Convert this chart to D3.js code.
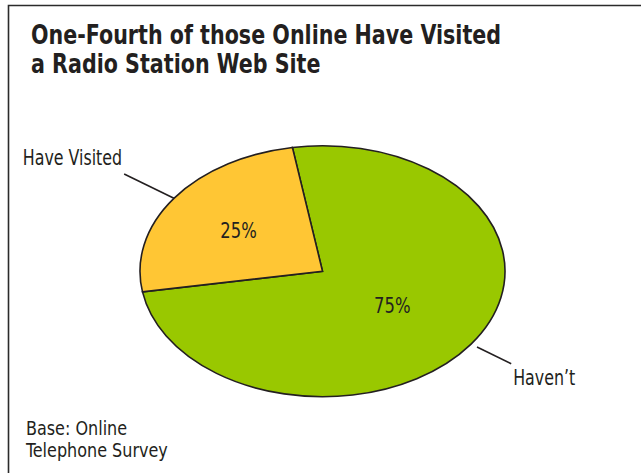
<!DOCTYPE html>
<html>
<head>
<meta charset="utf-8">
<script src="https://cdn.jsdelivr.net/npm/d3@7"></script>
<style>
  html, body { margin: 0; padding: 0; background: #fff; }
  svg { display: block; }
  text { font-family: "DejaVu Sans Condensed", "DejaVu Sans", sans-serif; font-stretch: condensed; fill: #231f20; }
</style>
</head>
<body>
<script>
// Survey share of online users who have visited a radio station web site
const categories = ["Haven\u2019t", "Have Visited"];
const shares = [75, 25];
const colors = ["#99c800", "#ffc634"];
const titleLines = ["One-Fourth of those Online Have Visited", "a Radio Station Web Site"];
const noteLines = ["Base: Online", "Telephone Survey"];

const W = 641, H = 473;
const svg = d3.select("body").append("svg").attr("width", W).attr("height", H);

// narrow a text element horizontally around its anchor point
function narrow(sel, f) {
  sel.each(function () {
    const t = d3.select(this);
    const x = +t.attr("x");
    t.attr("transform", `translate(${x},0) scale(${f},1) translate(${-x},0)`);
  });
}

// frame (open on the right and bottom)
svg.append("path")
  .attr("d", `M8.5,${H} L8.5,5.5 L${W},5.5`)
  .attr("fill", "none").attr("stroke", "#2b2b2b").attr("stroke-width", 1.6);

// title
svg.append("g").selectAll("text").data(titleLines).join("text")
  .attr("x", 31).attr("y", (d, i) => 44 + i * 29)
  .attr("font-size", 27).attr("font-weight", "bold")
  .text(d => d)
  .call(narrow, 0.85);

// footnote
svg.append("g").selectAll("text").data(noteLines).join("text")
  .attr("x", 26).attr("y", (d, i) => 435.5 + i * 22)
  .attr("font-size", 20)
  .text(d => d)
  .call(narrow, 0.89);

// elliptical pie: draw a circle of radius rx and squash vertically
const cx = 322.5, cy = 271.2, rx = 182.5, ry = 125.5;
const sy = ry / rx;
const rad = a => a * Math.PI / 180;

const data = categories.map((c, i) => ({ name: c, value: shares[i], color: colors[i] }));
const pie = d3.pie().value(d => d.value).sort(null)
  .startAngle(rad(-9.5)).endAngle(rad(350.5));
const arcs = pie(data);
const arc = d3.arc().innerRadius(0).outerRadius(rx);

const g = svg.append("g").attr("transform", `translate(${cx},${cy}) scale(1,${sy})`);
g.selectAll("path").data(arcs).join("path")
  .attr("d", arc)
  .attr("fill", d => d.data.color)
  .attr("stroke", "#231f20")
  .attr("stroke-width", 1.6)
  .attr("stroke-linejoin", "miter")
  .attr("vector-effect", "non-scaling-stroke");

// point on the ellipse at angle a (clockwise from top), scaled by k
const pt = (a, k) => [cx + Math.sin(a) * rx * k, cy - Math.cos(a) * ry * k];
const mid = d => (d.startAngle + d.endAngle) / 2;

// percentage labels inside slices
svg.append("g").selectAll("text").data(arcs).join("text")
  .attr("x", d => pt(mid(d), d.data.value < 50 ? 0.565 : 0.47)[0])
  .attr("y", d => pt(mid(d), d.data.value < 50 ? 0.565 : 0.47)[1] + 7.5)
  .attr("text-anchor", "middle")
  .attr("font-size", 20.5)
  .text(d => d.value + "%")
  .call(narrow, 0.89);

// leader lines and category labels outside the pie
const leaders = svg.append("g");
arcs.forEach(d => {
  const a = mid(d);
  const left = Math.sin(a) < 0;
  const p0 = pt(a, left ? 1.0 : 1.04), p1 = pt(a, left ? 1.335 : 1.27);
  leaders.append("line")
    .attr("x1", p0[0]).attr("y1", p0[1]).attr("x2", p1[0]).attr("y2", p1[1])
    .attr("stroke", "#231f20").attr("stroke-width", 1.6);
  leaders.append("text")
    .attr("x", p1[0] + (left ? -2 : 2))
    .attr("y", p1[1] + (left ? -8.5 : 21.5))
    .attr("text-anchor", left ? "end" : "start")
    .attr("font-size", 20.5)
    .text(d.data.name)
    .call(narrow, 0.86);
});
</script>
</body>
</html>
